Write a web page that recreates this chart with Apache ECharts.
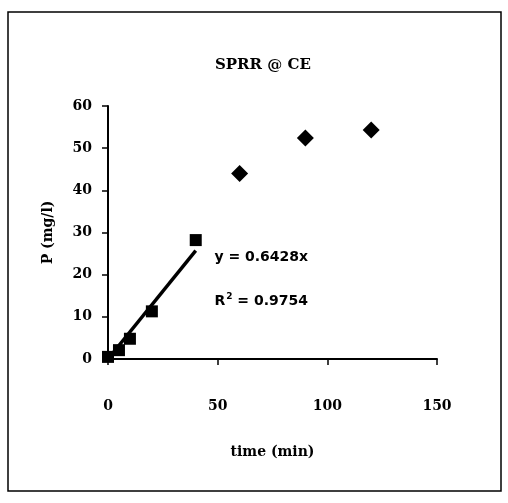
<!DOCTYPE html>
<html><head><meta charset="utf-8">
<script src="https://cdn.jsdelivr.net/npm/echarts@6/dist/echarts.min.js"></script>
<style>html,body{margin:0;padding:0;background:#fff}#c{width:508px;height:503px}</style>
</head><body><div id="c"></div>
<script>
const titleText = 'SPRR @ CE';
const xName = 'time (min)';
const yName = 'P (mg/l)';
const linearTimes = [0, 5, 10, 20, 40];
const linearP = [0.5, 2.1, 4.8, 11.3, 28.2];
const laterTimes = [60, 90, 120];
const laterP = [44.0, 52.4, 54.3];
const slope = 0.6428;
const r2 = 0.9754;
const trendX = [0, 40];
const xTicks = [0, 50, 100, 150];
const yTicks = [0, 10, 20, 30, 40, 50, 60];

const chart = echarts.init(document.getElementById('c'));
const serif = '"DejaVu Serif", "Liberation Serif", serif';
const sq = linearTimes.map((t, i) => [t, linearP[i]]);
const dia = laterTimes.map((t, i) => [t, laterP[i]]);
const trend = trendX.map(t => [t, slope * t]);

chart.setOption({
  animation: false,
  backgroundColor: '#fff',
  title: {
    text: titleText, left: 210, top: 53,
    textStyle: {fontFamily: serif, fontWeight: 'bold', fontSize: 15, color: '#000'}
  },
  grid: {left: 108, right: 71, top: 106, bottom: 144},
  xAxis: {
    type: 'value', min: xTicks[0], max: xTicks[xTicks.length - 1], interval: 50,
    name: xName, nameLocation: 'middle', nameGap: 86,
    nameTextStyle: {fontFamily: serif, fontWeight: 'bold', fontSize: 14, color: '#000'},
    axisLine: {lineStyle: {color: '#000', width: 2}},
    axisTick: {show: true, length: 6, lineStyle: {color: '#000', width: 1.5}},
    axisLabel: {margin: 40, fontFamily: serif, fontWeight: 'bold', fontSize: 14, color: '#000'},
    splitLine: {show: false}
  },
  yAxis: {
    type: 'value', min: yTicks[0], max: yTicks[yTicks.length - 1], interval: 10,
    name: yName, nameLocation: 'middle', nameGap: 53, nameRotate: 90,
    nameTextStyle: {fontFamily: serif, fontWeight: 'bold', fontSize: 14, color: '#000'},
    axisLine: {show: true, lineStyle: {color: '#000', width: 2}},
    axisTick: {show: true, length: 6, lineStyle: {color: '#000', width: 1.5}},
    axisLabel: {margin: 16, fontFamily: serif, fontWeight: 'bold', fontSize: 14, color: '#000'},
    splitLine: {show: false}
  },
  series: [
    {type: 'line', data: trend, symbol: 'none', lineStyle: {color: '#000', width: 3.5}, z: 3},
    {type: 'scatter', data: sq, symbol: 'rect', symbolSize: 12, itemStyle: {color: '#000', opacity: 1}, z: 4},
    {type: 'scatter', data: dia, symbol: 'diamond', symbolSize: 17, itemStyle: {color: '#000', opacity: 1}, z: 4}
  ]
});

const p1 = chart.convertToPixel({gridIndex: 0}, [48.5, 24.2]);
const p2 = chart.convertToPixel({gridIndex: 0}, [48.5, 13.7]);
const sans = '"DejaVu Sans", "Liberation Sans", sans-serif';
chart.setOption({
  graphic: [
    {type: 'rect', shape: {x: 8, y: 12, width: 493, height: 479}, style: {fill: 'none', stroke: '#000', lineWidth: 1.5}, silent: true},
    {type: 'text', x: p1[0], y: p1[1], style: {text: 'y = ' + slope + 'x', font: 'bold 14px ' + sans, fill: '#000', textVerticalAlign: 'middle'}},
    {type: 'text', x: p2[0], y: p2[1], style: {
      text: '{r|R}{s|2}{r| = ' + r2 + '}', textVerticalAlign: 'middle',
      rich: {
        r: {font: 'bold 14px ' + sans, fill: '#000', color: '#000'},
        s: {font: 'bold 9px ' + sans, fill: '#000', color: '#000', padding: [0, 0, 10, 1], verticalAlign: 'top'}
      }
    }}
  ]
});
</script>
</body></html>
